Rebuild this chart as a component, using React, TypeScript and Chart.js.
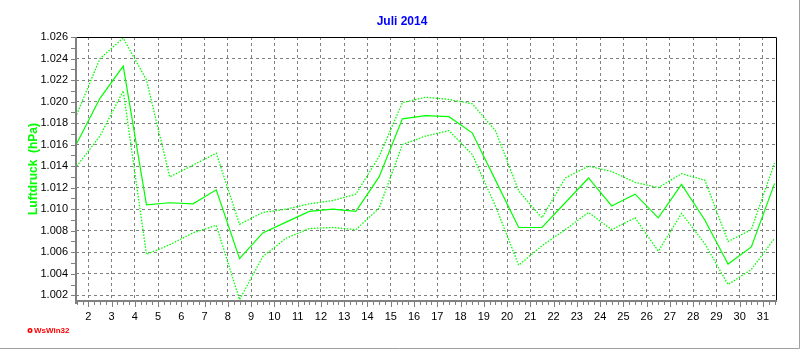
import React, { useEffect, useRef } from "react";
import { Chart, registerables } from "chart.js";

Chart.register(...registerables);

const chartTitle = "Juli 2014";
const yAxisTitle = "Luftdruck  (hPa)";
const logoText = "WsWin32";

// x positions (day of month, noon) for each daily value
const pointDays = [
  1.5, 2.5, 3.5, 4.5, 5.5, 6.5, 7.5, 8.5, 9.5, 10.5, 11.5, 12.5, 13.5, 14.5, 15.5, 16.5,
  17.5, 18.5, 19.5, 20.5, 21.5, 22.5, 23.5, 24.5, 25.5, 26.5, 27.5, 28.5, 29.5, 30.5, 31.5,
];

// day labels on the x axis
const dayTicks = [
  2, 3, 4, 5, 6, 7, 8, 9, 10, 11, 12, 13, 14, 15, 16, 17, 18, 19, 20, 21, 22, 23, 24, 25, 26,
  27, 28, 29, 30, 31,
];

// pressure tick labels
const pressureTicks = [
  1.002, 1.004, 1.006, 1.008, 1.01, 1.012, 1.014, 1.016, 1.018, 1.02, 1.022, 1.024, 1.026,
];

const pressureMax = [
  1.0188, 1.0240, 1.0259, 1.0220, 1.0130, 1.0141, 1.0152, 1.0086, 1.0097, 1.0100, 1.0105,
  1.0108, 1.0114, 1.0149, 1.0199, 1.0204, 1.0202, 1.0198, 1.0173, 1.0117, 1.0092, 1.0129,
  1.0140, 1.0135, 1.0125, 1.0120, 1.0133, 1.0127, 1.0070, 1.0081, 1.0143,
];

const pressureMean = [
  1.0161, 1.0203, 1.0233, 1.0104, 1.0106, 1.0105, 1.0118, 1.0054, 1.0078, 1.0088, 1.0098,
  1.0100, 1.0098, 1.0130, 1.0184, 1.0187, 1.0186, 1.0171, 1.0127, 1.0083, 1.0083, 1.0106,
  1.0129, 1.0103, 1.0114, 1.0092, 1.0123, 1.0090, 1.0049, 1.0065, 1.0124,
];

const pressureMin = [
  1.0140, 1.0168, 1.0210, 1.0058, 1.0067, 1.0078, 1.0085, 1.0016, 1.0056, 1.0073, 1.0082,
  1.0083, 1.0081, 1.0101, 1.0160, 1.0168, 1.0173, 1.0151, 1.0103, 1.0048, 1.0066, 1.0081,
  1.0097, 1.0081, 1.0092, 1.0061, 1.0096, 1.0068, 1.0030, 1.0044, 1.0073,
];

const FONT = "'Liberation Sans', Arial, sans-serif";

const framePlugin = {
  id: "framePlugin",
  afterDraw(chart: any) {
    const ctx = chart.ctx as CanvasRenderingContext2D;
    const area = chart.chartArea;
    const xs = chart.scales.x;
    const ys = chart.scales.y;
    ctx.save();
    ctx.setLineDash([]);

    // minor ticks on y axis
    ctx.strokeStyle = "#808080";
    ctx.lineWidth = 1;
    for (let i = 0; i <= 24; i++) {
      const v = 1.002 + i * 0.001;
      const y = Math.round(ys.getPixelForValue(v)) + 0.5;
      ctx.beginPath();
      ctx.moveTo(area.left - 5, y);
      ctx.lineTo(area.left - 1, y);
      ctx.stroke();
    }
    // ticks on x axis
    for (let d = 1.5; d <= 31.5001; d += 0.25) {
      const x = Math.round(xs.getPixelForValue(d)) + 0.5;
      if (x < area.left || x > area.right + 1) continue;
      const major = Math.abs(d - Math.round(d)) < 1e-6;
      ctx.beginPath();
      ctx.moveTo(x, area.bottom + 1);
      ctx.lineTo(x, area.bottom + (major ? 6 : 4));
      ctx.stroke();
    }

    // top and right border (black)
    ctx.strokeStyle = "#000000";
    ctx.lineWidth = 1;
    ctx.beginPath();
    ctx.moveTo(area.left, Math.round(area.top) + 0.5);
    ctx.lineTo(Math.round(area.right) + 0.5, Math.round(area.top) + 0.5);
    ctx.lineTo(Math.round(area.right) + 0.5, area.bottom);
    ctx.stroke();

    // left and bottom axis (thick gray)
    ctx.strokeStyle = "#808080";
    ctx.lineWidth = 2;
    ctx.beginPath();
    ctx.moveTo(Math.round(area.left), area.top);
    ctx.lineTo(Math.round(area.left), area.bottom + 3);
    ctx.stroke();
    ctx.beginPath();
    ctx.moveTo(area.left - 1, Math.round(area.bottom));
    ctx.lineTo(area.right + 1, Math.round(area.bottom));
    ctx.stroke();

    // outer border (right/bottom)
    ctx.lineWidth = 1;
    ctx.strokeStyle = "#a0a0a0";
    ctx.beginPath();
    ctx.moveTo(0, 348.5);
    ctx.lineTo(799.5, 348.5);
    ctx.lineTo(799.5, 0);
    ctx.stroke();

    // title
    ctx.fillStyle = "#0000ff";
    ctx.font = `bold 12px ${FONT}`;
    ctx.textAlign = "center";
    ctx.textBaseline = "middle";
    ctx.fillText(chartTitle, 402, 22);

    // y axis title
    ctx.save();
    ctx.translate(34, (area.top + area.bottom) / 2);
    ctx.rotate(-Math.PI / 2);
    ctx.fillStyle = "#00ff00";
    ctx.font = `bold 12px ${FONT}`;
    ctx.textAlign = "center";
    ctx.textBaseline = "middle";
    ctx.fillText(yAxisTitle, 0, 0);
    ctx.restore();

    // logo
    ctx.fillStyle = "#ff0000";
    ctx.beginPath();
    ctx.arc(30, 330.5, 2.5, 0, Math.PI * 2);
    ctx.fill();
    ctx.fillStyle = "#ffffff";
    ctx.beginPath();
    ctx.arc(30, 330.5, 1, 0, Math.PI * 2);
    ctx.fill();
    ctx.fillStyle = "#ff0000";
    ctx.font = `bold 8px ${FONT}`;
    ctx.textAlign = "left";
    ctx.textBaseline = "middle";
    ctx.fillText(logoText, 34, 331);

    ctx.restore();
  },
};

function toPoints(values: number[]) {
  return values.map((v, i) => ({ x: pointDays[i], y: v }));
}

export default function App() {
  const canvasRef = useRef<HTMLCanvasElement | null>(null);

  useEffect(() => {
    document.body.style.margin = "0";
    const canvas = canvasRef.current;
    if (!canvas) return;
    const chart = new Chart(canvas, {
      type: "line",
      data: {
        datasets: [
          {
            label: "Max",
            data: toPoints(pressureMax),
            borderColor: "#00ff00",
            borderWidth: 1.3,
            borderDash: [1.5, 1.5],
            pointRadius: 0,
            tension: 0,
            fill: false,
          },
          {
            label: "Mittel",
            data: toPoints(pressureMean),
            borderColor: "#00ff00",
            borderWidth: 1.2,
            pointRadius: 0,
            tension: 0,
            fill: false,
          },
          {
            label: "Min",
            data: toPoints(pressureMin),
            borderColor: "#00ff00",
            borderWidth: 1.3,
            borderDash: [1.5, 1.5],
            pointRadius: 0,
            tension: 0,
            fill: false,
          },
        ],
      },
      options: {
        animation: false,
        responsive: false,
        events: [],
        layout: { padding: { left: 0, right: 24, top: 37, bottom: 0 } },
        plugins: {
          legend: { display: false },
          tooltip: { enabled: false },
          title: { display: false },
        },
        scales: {
          x: {
            type: "linear",
            min: 1.47,
            max: 31.56,
            afterBuildTicks: (axis: any) => {
              axis.ticks = dayTicks.map((v) => ({ value: v }));
            },
            afterFit: (axis: any) => {
              axis.height = 49;
            },
            grid: {
              color: "#808080",
              lineWidth: 1,
              drawTicks: false,
            },
            border: { display: false, dash: [3, 3] },
            ticks: {
              autoSkip: false,
              maxRotation: 0,
              padding: 9,
              color: "#000000",
              font: { family: FONT, size: 11 },
              callback: (v: any) => String(v),
            },
          },
          y: {
            type: "linear",
            min: 1.00147,
            max: 1.026,
            afterBuildTicks: (axis: any) => {
              axis.ticks = pressureTicks.map((v) => ({ value: v }));
            },
            afterFit: (axis: any) => {
              axis.width = 76;
            },
            grid: {
              color: "#808080",
              lineWidth: 1,
              drawTicks: false,
            },
            border: { display: false, dash: [3, 3] },
            ticks: {
              padding: 8,
              color: "#000000",
              font: { family: FONT, size: 11 },
              callback: (v: any) => Number(v).toFixed(3),
            },
          },
        },
      },
      plugins: [framePlugin],
    });
    return () => chart.destroy();
  }, []);

  return (
    <div style={{ width: 800, height: 350, background: "#ffffff" }}>
      <canvas ref={canvasRef} width={800} height={350} style={{ display: "block" }} />
    </div>
  );
}
